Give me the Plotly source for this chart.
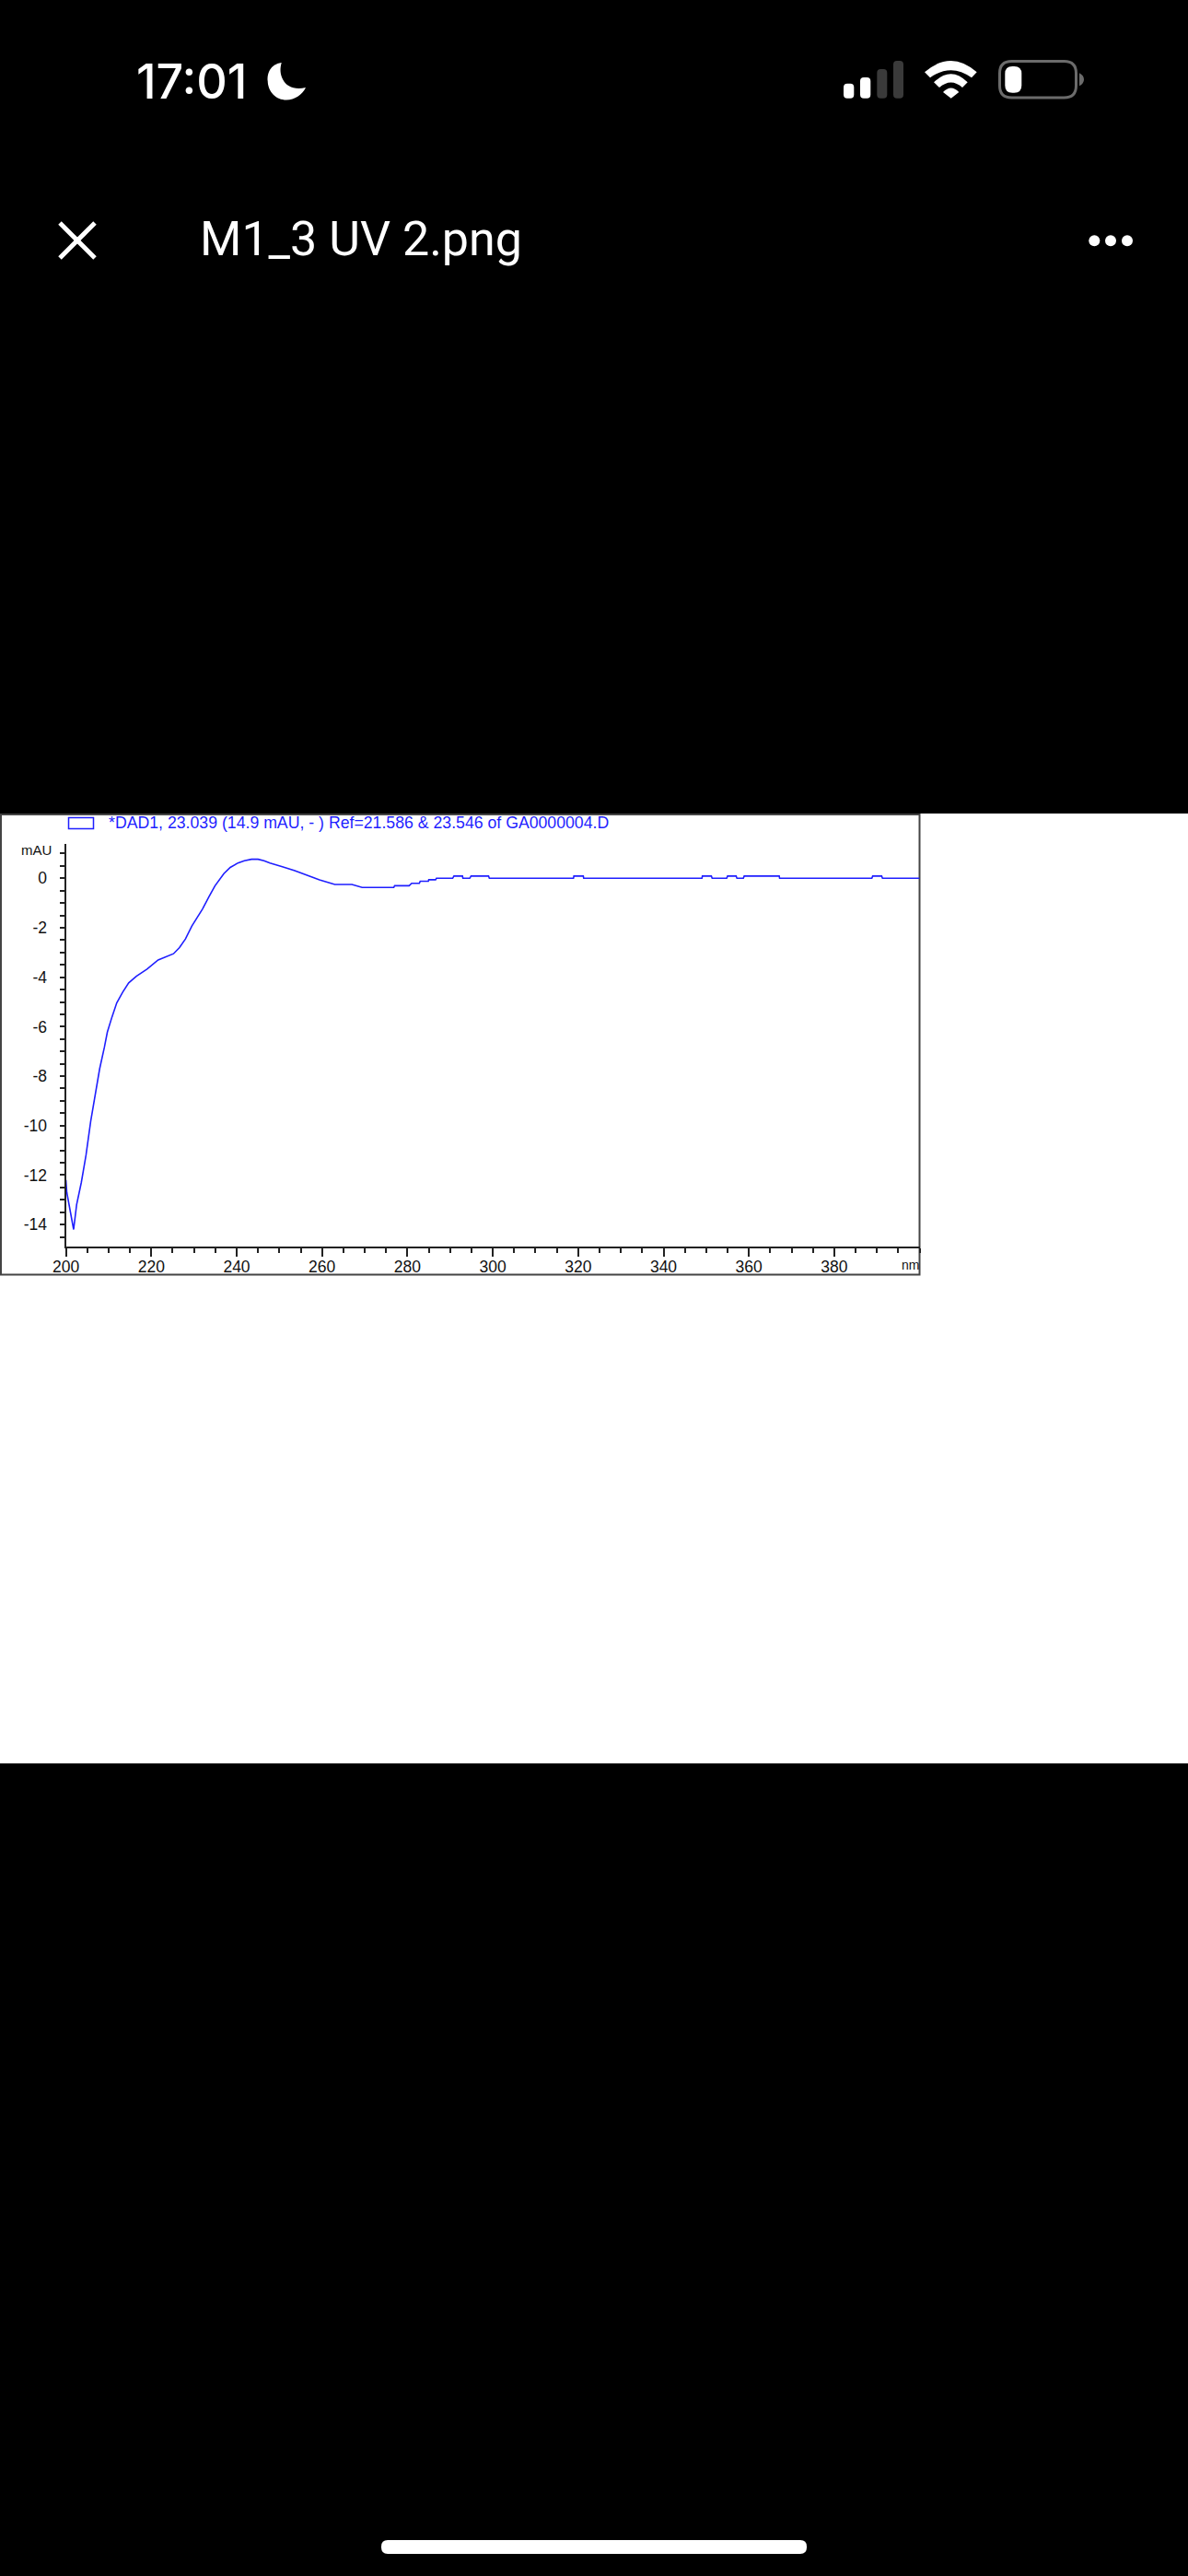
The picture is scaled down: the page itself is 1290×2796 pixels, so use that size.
import plotly.graph_objects as go

W, H = 1290, 2796

# Spectrum
wavelength = [200, 200.2, 201.8, 202.5, 203.6, 204.7, 205.8, 206.8, 207.9, 209, 209.7, 210.8, 211.9,
              213.3, 214.7, 216.5, 219, 221.6, 223.7, 225.2, 226.6, 228, 229.5, 232, 233.5, 234.9,
              237, 238.5, 240.3, 241.8, 243.5, 245, 246.4, 247.8, 250.7, 253.6, 256.5, 259.4, 263, 267, 269.4,
              276.8, 277, 280.4, 281, 282.8, 283, 284.9, 285, 286.6, 286.8, 290.6, 290.9, 292.9,
              293, 294.6, 294.9, 299, 299.2, 318.9, 319, 321.2, 321.3, 349, 349.1, 351.2, 351.4,
              354.8, 355, 357, 357.2, 358.7, 358.9, 367.1, 367.2, 388.8, 389, 391.1, 391.3, 400]
mau = [-12.2, -12.7, -14.2, -13.2, -12.3, -11.2, -9.83, -8.84, -7.7, -6.84, -6.22, -5.6, -5.04,
       -4.6, -4.23, -3.96, -3.67, -3.3, -3.17, -3.05, -2.8, -2.45, -1.93, -1.24, -0.75, -0.31,
       0.19, 0.44, 0.62, 0.71, 0.77, 0.77, 0.71, 0.62, 0.47, 0.31, 0.12, -0.06, -0.25, -0.25, -0.37,
       -0.37, -0.3, -0.3, -0.2, -0.2, -0.12, -0.12, -0.06, -0.06, 0, 0, 0.09, 0.09,
       0, 0, 0.09, 0.09, 0, 0, 0.09, 0.09, 0, 0, 0.09, 0.09, 0,
       0, 0.09, 0.09, 0, 0, 0.09, 0.09, 0, 0, 0.09, 0.09, 0, 0]

x_ticks = list(range(200, 400, 20))
y_ticks = list(range(-14, 2, 2))
legend_text = "*DAD1, 23.039 (14.9 mAU, - ) Ref=21.586 & 23.546 of GA0000004.D"
y_unit = "mAU"
x_unit = "nm"
clock = "17:01"
file_name = "M1_3 UV 2.png"

BLUE = "#1f1fff"
AXIS = "#222222"
TICK_FONT = dict(family="Liberation Sans", size=17.5, color="#111111")


def fx(px):
    return px / W


def fy(px):
    return 1 - px / H


def rect(x0, y0, x1, y1, fill, line=None, width=0, layer="above"):
    return dict(type="rect", xref="paper", yref="paper", x0=fx(x0), y0=fy(y0), x1=fx(x1), y1=fy(y1),
                fillcolor=fill, line=dict(color=line or fill, width=width), layer=layer)


def rounded(x0, y0, x1, y1, r, fill, line=None, width=0):
    # rounded box as a path, coordinates given in screen pixels
    p = (f"M {fx(x0 + r)} {fy(y0)} L {fx(x1 - r)} {fy(y0)} Q {fx(x1)} {fy(y0)} {fx(x1)} {fy(y0 + r)} "
         f"L {fx(x1)} {fy(y1 - r)} Q {fx(x1)} {fy(y1)} {fx(x1 - r)} {fy(y1)} "
         f"L {fx(x0 + r)} {fy(y1)} Q {fx(x0)} {fy(y1)} {fx(x0)} {fy(y1 - r)} "
         f"L {fx(x0)} {fy(y0 + r)} Q {fx(x0)} {fy(y0)} {fx(x0 + r)} {fy(y0)} Z")
    return dict(type="path", xref="paper", yref="paper", path=p, fillcolor=fill,
                line=dict(color=line or fill, width=width))


def outline(cmds, fill="white", line_color=None, width=0):
    # cmds: list of (letter, x, y, ...) in screen pixels
    parts = []
    for c in cmds:
        nums = c[1:]
        conv = [fx(v) if i % 2 == 0 else fy(v) for i, v in enumerate(nums)]
        parts.append(c[0] + " " + " ".join(str(v) for v in conv))
    return dict(type="path", xref="paper", yref="paper", path=" ".join(parts) + " Z", fillcolor=fill,
                line=dict(color=line_color or fill, width=width))


def dot(cx, cy, r):
    return dict(type="circle", xref="paper", yref="paper", x0=fx(cx - r), x1=fx(cx + r), y0=fy(cy + r), y1=fy(cy - r),
                fillcolor="white", line=dict(width=0))


def stroke(x0, y0, x1, y1, color="white", width=5):
    return dict(type="line", xref="paper", yref="paper", x0=fx(x0), y0=fy(y0), x1=fx(x1), y1=fy(y1),
                line=dict(color=color, width=width))


def label(px, py, text, font, anchor="left"):
    return dict(xref="paper", yref="paper", x=fx(px), y=fy(py), text=text, showarrow=False,
                xanchor=anchor, yanchor="middle", font=font, borderpad=0, borderwidth=0)


fig = go.Figure(go.Scatter(x=wavelength, y=mau, mode="lines", line=dict(color=BLUE, width=1.6),
                           cliponaxis=True, hoverinfo="skip"))

shapes = [
    # white photo area and the screenshot's frame
    rect(0, 883, 1290, 1914, "white", layer="below"),
    rect(1, 884, 998.5, 1383.5, "rgba(0,0,0,0)", line="#444444", width=2, layer="below"),
    # legend swatch
    rect(74.5, 887.5, 101.5, 899.5, "rgba(0,0,0,0)", line=BLUE, width=1.5),
    # signal bars
    rounded(916, 90.7, 927.3, 106.7, 4, "white"),
    rounded(934, 84, 945.3, 106.7, 4, "white"),
    rounded(952.3, 75, 963.3, 106.7, 4, "#3a3a3a"),
    rounded(970, 66, 981, 106.7, 4, "#3a3a3a"),
    # wifi
    outline([("M", 1004, 78.3), ("Q", 1032.7, 53.5, 1060.7, 78.3), ("L", 1055, 84.3),
             ("Q", 1032.7, 68, 1010, 84.3)]),
    outline([("M", 1014, 89.3), ("Q", 1032.7, 71, 1050.7, 89.3), ("L", 1045, 95),
             ("Q", 1032.7, 84, 1020, 95)]),
    outline([("M", 1024, 100), ("Q", 1032.7, 91, 1041.3, 100), ("L", 1032.7, 106.7)]),
    # battery
    rounded(1085.5, 66.5, 1168.5, 106, 13, "rgba(0,0,0,0)", line="#6b6b6b", width=3),
    rounded(1091.3, 72, 1109.3, 100.7, 8, "white"),
    outline([("M", 1172, 79.3), ("Q", 1177, 82, 1177, 86.3), ("Q", 1177, 91, 1172, 93.3)], fill="#6b6b6b"),
    # moon
    outline([("M", 305.7, 68), ("C", 293, 70, 290, 80, 290.7, 88), ("C", 291, 100, 300, 108.5, 311, 108.5),
             ("C", 320, 108.5, 328, 103, 332, 95), ("C", 320, 98, 311, 94, 307, 86), ("C", 304, 80, 304, 74, 305.7, 68)]),
    # close button
    stroke(65, 242, 103, 280),
    stroke(103, 242, 65, 280),
    # more button
    dot(1188.3, 261.3, 6), dot(1206, 261.3, 6), dot(1224, 261.3, 6),
    # home indicator
    rounded(414, 2757, 876, 2772, 7, "white"),
]

annotations = [
    label(118, 893, legend_text, dict(family="Liberation Sans", size=17.7, color=BLUE)),
    label(23, 922, y_unit, dict(family="Liberation Sans", size=15, color="#111111")),
    label(998, 1373, x_unit, dict(family="Liberation Sans", size=14, color="#111111"), anchor="right"),
    label(148, 88, clock, dict(family="Inter", size=52, color="white", weight=500)),
    label(217, 260, file_name, dict(family="Roboto", size=52, color="white")),
]

fig.update_layout(
    width=W, height=H, margin=dict(l=0, r=0, t=0, b=0, autoexpand=False), autosize=False,
    paper_bgcolor="black", plot_bgcolor="rgba(0,0,0,0)", showlegend=False,
    shapes=shapes, annotations=annotations,
    xaxis=dict(domain=[fx(71.6), fx(998.6)], range=[200, 400], tickmode="array", tickvals=x_ticks,
               ticks="outside", ticklen=9, tickwidth=1.5, tickcolor=AXIS, showgrid=False, zeroline=False,
               showline=True, linecolor=AXIS, linewidth=2, tickfont=TICK_FONT, ticklabelstandoff=-4,
               minor=dict(dtick=5, tick0=200, ticks="outside", ticklen=5, tickwidth=1.5, tickcolor=AXIS, showgrid=False)),
    yaxis=dict(domain=[fy(1353.3), fy(916)], range=[-14.9, 1.39], tickmode="array", tickvals=y_ticks,
               ticktext=[str(v) if v != 2 else "" for v in y_ticks], ticklabelstandoff=10,
               ticks="outside", ticklen=5, tickwidth=1.5, tickcolor=AXIS, showgrid=False, zeroline=False,
               showline=True, linecolor=AXIS, linewidth=2, tickfont=TICK_FONT,
               minor=dict(dtick=0.5, tick0=0, ticks="outside", ticklen=5, tickwidth=1.5, tickcolor=AXIS, showgrid=False)),
)

fig.write_html("out.html", config=dict(displayModeBar=False),
               post_script="document.body.style.margin='0';document.body.style.background='black';")
